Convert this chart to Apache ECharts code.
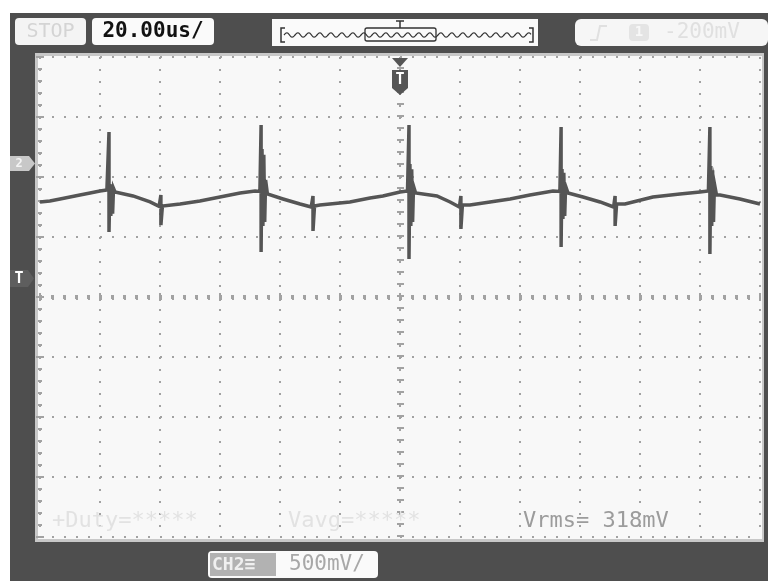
<!DOCTYPE html>
<html><head><meta charset="utf-8">
<script src="https://cdn.jsdelivr.net/npm/echarts@6/dist/echarts.min.js"></script>
<style>html,body{margin:0;padding:0;background:#fff}#c{width:768px;height:581px}</style>
</head><body><div id="c"></div>
<script>
// Oscilloscope capture, CH2, 20 us/div, 500 mV/div, ground marker = 0 mV
const timeUs = [
  0, 3.3, 6.7, 10, 13.3, 16.7, 20, 22.3,
  23, 23, 23.3, 23.6, 23.9, 24.2, 24.5, 25,
  31, 36.7, 39.7,
  40.3, 40.3, 40.8,
  46.7, 53.3, 60, 66.7, 71.7, 73.3,
  73.7, 73.7, 74.0, 74.3, 74.6, 74.9, 75.2, 75.8,
  81, 86.7, 90.4,
  91, 91, 91.5,
  93.3, 103.3, 110, 114.3, 120, 122.5,
  123, 123, 123.3, 123.6, 123.9, 124.2, 124.5, 125.2,
  132.3, 136.7, 139.8,
  140.3, 140.3, 140.8,
  143.3, 150, 156.7, 163.3, 171, 173.3,
  173.7, 173.7, 174.0, 174.3, 174.6, 174.9, 175.2, 176,
  181, 186.7, 191.2,
  191.7, 191.7, 192.2,
  195, 204.3, 213.3, 220, 222.8,
  223.3, 223.3, 223.6, 223.9, 224.2, 224.5, 224.8, 225.5,
  226.7, 233.3, 240
];
const ch2Mv = [
  -333, -325, -308, -292, -275, -258, -242, -233,
  250, -583, -183, -450, -190, -430, -220, -250,
  -283, -333, -370,
  -275, -525, -367,
  -350, -325, -292, -258, -242, -245,
  308, -750, 108, -533, 60, -500, -150, -267,
  -308, -350, -375,
  -283, -575, -367,
  -358, -333, -300, -283, -250, -242,
  308, -808, -17, -533, -60, -500, -200, -258,
  -283, -333, -375,
  -283, -558, -358,
  -358, -333, -308, -275, -242, -245,
  292, -708, -58, -475, -90, -450, -200, -258,
  -292, -333, -375,
  -283, -533, -350,
  -350, -292, -267, -250, -242,
  292, -767, -33, -533, -70, -500, -180, -275,
  -275, -308, -350
];
const timeDivUs = 20;      // 20.00us/
const voltDivMv = 500;     // 500mV/
const divisionsX = 12;
const divisionsY = 8;
const groundDivFromTop = 1.75; // CH2 ground marker position
const readouts = { duty: '+Duty=*****', vavg: 'Vavg=*****', vrms: 'Vrms= 318mV' };

const yMaxMv = groundDivFromTop * voltDivMv;
const yMinMv = yMaxMv - divisionsY * voltDivMv;
const wave = timeUs.map((t, i) => [t, ch2Mv[i]]);

const MONO = '"DejaVu Sans Mono", "Liberation Mono", monospace';
const DOT = '#a2a2a2';
const chart = echarts.init(document.getElementById('c'));

// decorative mini memory waveform in the top bar
function wavy(x0, x1, y, amp, per) {
  const pts = [];
  for (let x = x0; x <= x1; x += 1) {
    pts.push([x, y - amp * Math.sin((x - x0) / per * 2 * Math.PI)]);
  }
  return pts;
}

const graphics = [
  { type: 'rect', z: -20, shape: { x: 10, y: 13, width: 758, height: 568 }, style: { fill: '#4e4e4e' } },
  { type: 'rect', z: -19, shape: { x: 35, y: 53, width: 729, height: 489 }, style: { fill: '#c8c8c8' } },
  { type: 'rect', z: -18, shape: { x: 38, y: 56, width: 724, height: 483 }, style: { fill: '#f8f8f8' } },
  // top bar boxes
  { type: 'rect', z: 50, shape: { x: 15, y: 18, width: 71, height: 27, r: 4 }, style: { fill: '#f4f4f4' } },
  { type: 'text', z: 51, style: { x: 50.5, y: 32, text: 'STOP', fill: '#d4d4d4', font: '20px ' + MONO, align: 'center', verticalAlign: 'middle' } },
  { type: 'rect', z: 50, shape: { x: 92, y: 18, width: 122, height: 27, r: 4 }, style: { fill: '#fafafa' } },
  { type: 'text', z: 51, style: { x: 153, y: 32, text: '20.00us/', fill: '#111', font: 'bold 21px ' + MONO, align: 'center', verticalAlign: 'middle' } },
  { type: 'rect', z: 50, shape: { x: 272, y: 19, width: 266, height: 27 }, style: { fill: '#fafafa' } },
  { type: 'polyline', z: 51, shape: { points: wavy(284, 531, 35, 2.2, 11) }, style: { stroke: '#333', lineWidth: 1.2, fill: null } },
  { type: 'polyline', z: 51, shape: { points: [[285, 28], [281, 28], [281, 42], [285, 42]] }, style: { stroke: '#333', lineWidth: 1.5, fill: null } },
  { type: 'polyline', z: 51, shape: { points: [[529, 28], [533, 28], [533, 42], [529, 42]] }, style: { stroke: '#333', lineWidth: 1.5, fill: null } },
  { type: 'rect', z: 51, shape: { x: 365, y: 28, width: 71, height: 13, r: 2 }, style: { stroke: '#333', lineWidth: 1.3, fill: null } },
  { type: 'polyline', z: 51, shape: { points: [[396, 21], [404, 21]] }, style: { stroke: '#333', lineWidth: 1.5 } },
  { type: 'polyline', z: 51, shape: { points: [[400, 21], [400, 28]] }, style: { stroke: '#333', lineWidth: 1.5 } },
  { type: 'rect', z: 50, shape: { x: 575, y: 19, width: 193, height: 27, r: 6 }, style: { fill: '#f6f6f6' } },
  { type: 'polyline', z: 51, shape: { points: [[590, 40], [597, 40], [600, 26], [607, 26]] }, style: { stroke: '#e0e0e0', lineWidth: 2, fill: null } },
  { type: 'rect', z: 51, shape: { x: 629, y: 24, width: 20, height: 17, r: 4 }, style: { fill: '#e4e4e4' } },
  { type: 'text', z: 52, style: { x: 639, y: 32.5, text: '1', fill: '#f8f8f8', font: 'bold 14px ' + MONO, align: 'center', verticalAlign: 'middle' } },
  { type: 'text', z: 51, style: { x: 664, y: 33, text: '-200mV', fill: '#e0e0e0', font: '21px ' + MONO, verticalAlign: 'middle' } },
  // trigger position marker
  { type: 'polygon', z: 60, shape: { points: [[392, 58], [408, 58], [400, 67]] }, style: { fill: '#555' } },
  { type: 'polygon', z: 60, shape: { points: [[392, 70], [408, 70], [408, 88], [400, 95], [392, 88]] }, style: { fill: '#555' } },
  { type: 'text', z: 61, style: { x: 400, y: 80, text: 'T', fill: '#fff', font: 'bold 15px ' + MONO, align: 'center', verticalAlign: 'middle' } },
  // left markers
  { type: 'polygon', z: 60, shape: { points: [[10, 156], [29, 156], [35, 163.5], [29, 171], [10, 171]] }, style: { fill: '#c8c8c8' } },
  { type: 'text', z: 61, style: { x: 19, y: 164, text: '2', fill: '#f4f4f4', font: 'bold 12px ' + MONO, align: 'center', verticalAlign: 'middle' } },
  { type: 'polygon', z: 60, shape: { points: [[10, 270], [28, 270], [34, 278.5], [28, 287], [10, 287]] }, style: { fill: '#5e5e5e' } },
  { type: 'text', z: 61, style: { x: 19, y: 279, text: 'T', fill: '#fff', font: 'bold 15px ' + MONO, align: 'center', verticalAlign: 'middle' } },
  // readouts
  { type: 'text', z: 40, style: { x: 52, y: 521, text: readouts.duty, fill: '#e2e2e2', font: '22px ' + MONO, verticalAlign: 'middle' } },
  { type: 'text', z: 40, style: { x: 288, y: 521, text: readouts.vavg, fill: '#e2e2e2', font: '22px ' + MONO, verticalAlign: 'middle' } },
  { type: 'text', z: 40, style: { x: 523, y: 521, text: readouts.vrms, fill: '#9c9c9c', font: '22px ' + MONO, verticalAlign: 'middle' } },
  // channel scale box
  { type: 'rect', z: 50, shape: { x: 208, y: 551, width: 170, height: 27, r: 4 }, style: { fill: '#fafafa' } },
  { type: 'rect', z: 51, shape: { x: 210, y: 553, width: 66, height: 23 }, style: { fill: '#b2b2b2' } },
  { type: 'text', z: 52, style: { x: 212, y: 565, text: 'CH2≡', fill: '#f0f0f0', font: 'bold 18px ' + MONO, verticalAlign: 'middle' } },
  { type: 'text', z: 51, style: { x: 289, y: 565, text: '500mV/', fill: '#a8a8a8', font: '21px ' + MONO, verticalAlign: 'middle' } }
];

const tickStyle = { color: DOT, width: 2 };
chart.setOption({
  animation: false,
  backgroundColor: '#ffffff',
  grid: { left: 40, top: 57, width: 720, height: 480, show: false },
  xAxis: [
    { type: 'value', min: 0, max: divisionsX * timeDivUs, interval: timeDivUs, position: 'bottom',
      axisLine: { show: false }, axisLabel: { show: false },
      axisTick: { show: true, inside: true, length: 4, lineStyle: tickStyle },
      minorTick: { show: true, splitNumber: 5, length: 2, lineStyle: tickStyle },
      splitLine: { show: true, lineStyle: { color: DOT, width: 2, type: [2, 10] } } },
    { type: 'value', min: 0, max: divisionsX * timeDivUs, interval: timeDivUs, position: 'top',
      axisLine: { show: false }, axisLabel: { show: false }, splitLine: { show: false },
      axisTick: { show: true, inside: true, length: 4, lineStyle: tickStyle },
      minorTick: { show: true, splitNumber: 5, length: 2, lineStyle: tickStyle } }
  ],
  yAxis: [
    { type: 'value', min: -divisionsY / 2, max: divisionsY / 2, interval: 1, position: 'left',
      axisLine: { show: false }, axisLabel: { show: false },
      axisTick: { show: true, inside: true, length: 4, lineStyle: tickStyle },
      minorTick: { show: true, splitNumber: 5, length: 2, lineStyle: tickStyle },
      splitLine: { show: true, lineStyle: { color: DOT, width: 2, type: [2, 10] } } },
    { type: 'value', min: -divisionsY / 2, max: divisionsY / 2, interval: 1, position: 'right',
      axisLine: { show: false }, axisLabel: { show: false }, splitLine: { show: false },
      axisTick: { show: true, inside: true, length: 4, lineStyle: tickStyle },
      minorTick: { show: true, splitNumber: 5, length: 2, lineStyle: tickStyle } },
    { type: 'value', min: yMinMv, max: yMaxMv, show: false, splitLine: { show: false } }
  ],
  series: [
    { type: 'line', xAxisIndex: 0, yAxisIndex: 0, data: [], silent: true,
      markLine: { silent: true, symbol: 'none', label: { show: false }, animation: false,
        data: [
          { yAxis: 0, lineStyle: { color: DOT, width: 5, type: [2, 10] } },
          { xAxis: divisionsX * timeDivUs / 2, lineStyle: { color: DOT, width: 7, type: [2, 10] } }
        ] } },
    { type: 'line', xAxisIndex: 0, yAxisIndex: 2, data: wave, showSymbol: false, symbol: 'none',
      lineStyle: { color: '#555555', width: 3.5, join: 'miter' }, z: 5 }
  ],
  graphic: graphics
});
</script></body></html>
